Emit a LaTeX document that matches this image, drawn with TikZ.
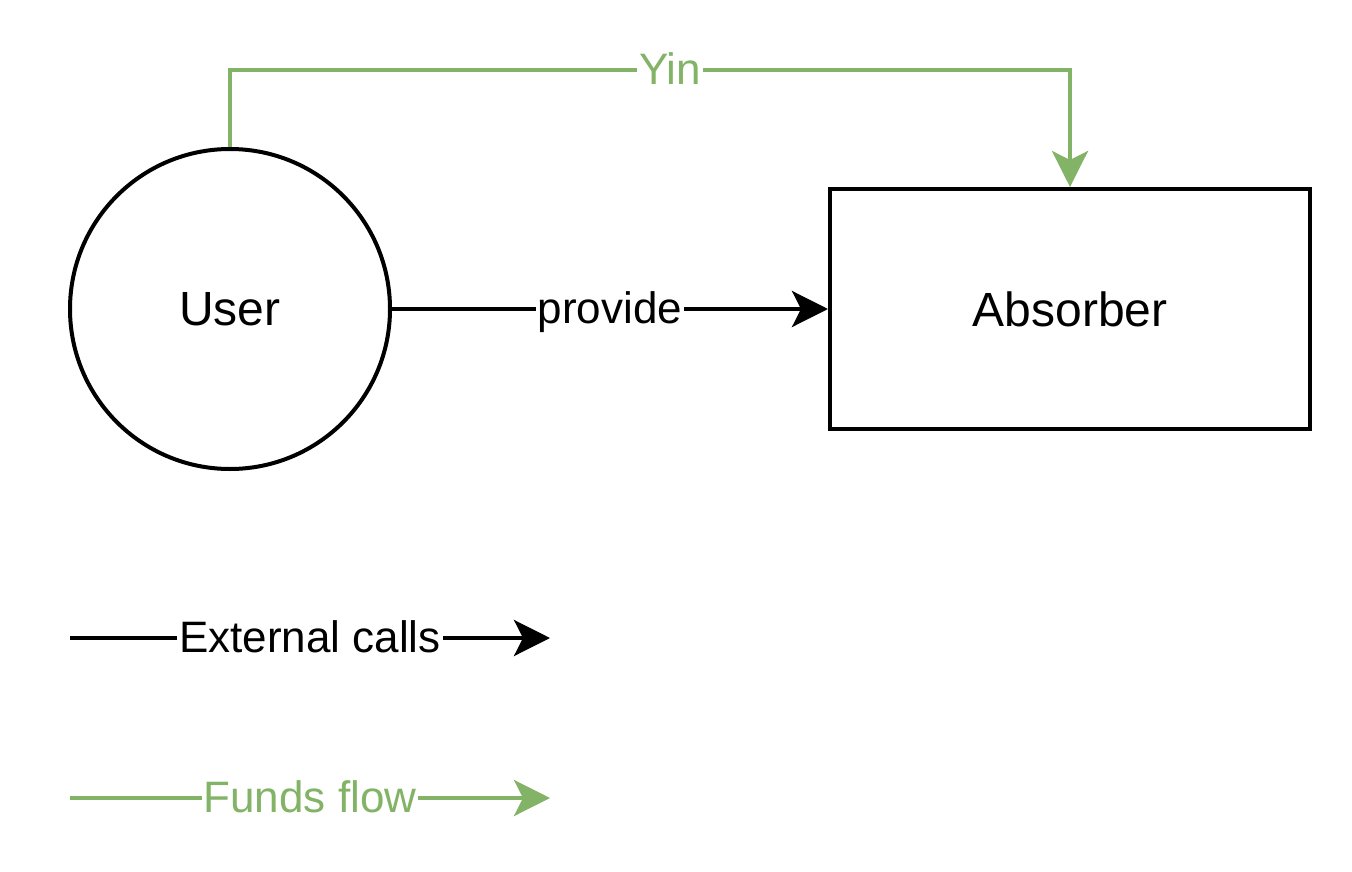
\documentclass[tikz,border=0pt]{standalone}
\usepackage{fontspec}
\setmainfont{Liberation Sans}
\usetikzlibrary{arrows.meta}
\definecolor{fundgreen}{HTML}{82B366}
\tikzset{
  every picture/.style={x=1pt,y=-1pt},
  edgeline/.style={line width=4pt},
  tipped/.style={-{Stealth[length=36pt,width=36pt,inset=9pt]}},
  nodefont/.style={font=\fontsize{48}{56}\selectfont},
  labelfont/.style={font=\fontsize{44}{52}\selectfont, fill=white, inner sep=2pt, text height=35pt, text depth=6pt},
}
\begin{document}
\begin{tikzpicture}
\useasboundingbox (0,0) rectangle (1352,872);
\node[draw, line width=4pt, circle, minimum size=320pt, inner sep=0pt, nodefont] (user) at (230,309) {User};
\node[draw, line width=4pt, rectangle, minimum width=480pt, minimum height=240pt, inner sep=0pt, nodefont] (abs) at (1070,309) {Absorber};
\draw[edgeline, tipped] (user.east) -- node[labelfont]{provide} (abs.west);
\draw[edgeline, tipped, draw=fundgreen] (user.north) |- (670,70) node[labelfont, text=fundgreen]{Yin} -| (abs.north);
\coordinate (l1a) at (70,638);
\coordinate (l1b) at (550,638);
\coordinate (l2a) at (70,798);
\coordinate (l2b) at (550,798);
\draw[edgeline, tipped] (l1a) -- node[labelfont, pos=0.5]{External calls} (l1b);
\draw[edgeline, tipped, draw=fundgreen] (l2a) -- node[labelfont, text=fundgreen, pos=0.5]{Funds flow} (l2b);
\end{tikzpicture}
\end{document}
